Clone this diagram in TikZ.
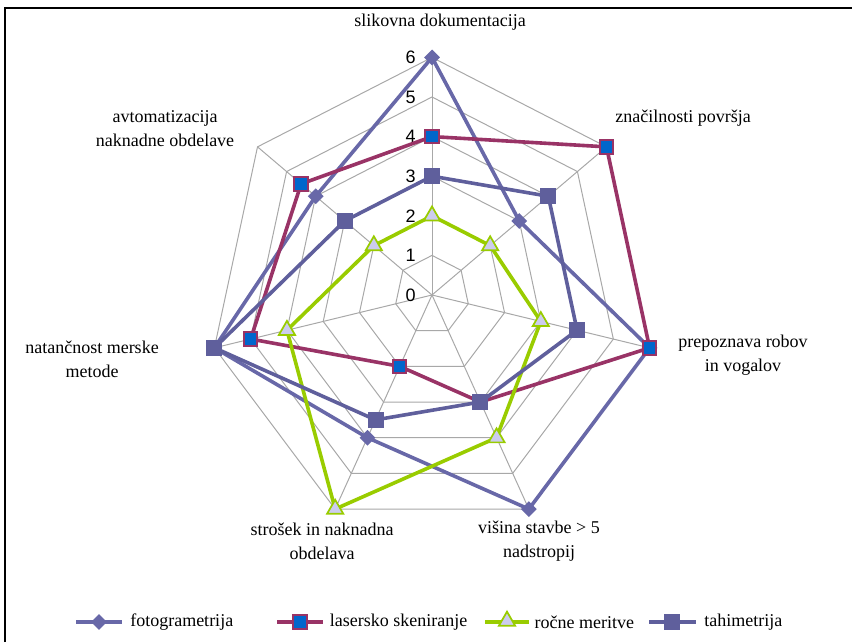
\documentclass[tikz,border=0pt]{standalone}
\usepackage{fontspec}
\setmainfont{Liberation Serif}
\newfontfamily\valuefont{Liberation Sans}
\usetikzlibrary{positioning,shapes.geometric}

\definecolor{fotocolor}{HTML}{6868A8}
\definecolor{lasercolor}{HTML}{993366}
\definecolor{laserfill}{HTML}{0066CC}
\definecolor{rocnecolor}{HTML}{99CC00}
\definecolor{rocnefill}{HTML}{CCCCEE}
\definecolor{tahicolor}{HTML}{5F5F9C}
\definecolor{gridcolor}{HTML}{A8A8A8}

\begin{document}
\begin{tikzpicture}[%
	x=0.75pt,y=0.75pt,
	grid line/.style={
		draw=gridcolor,
		line width=0.75pt
	},
	axis text/.style={
		font=\fontsize{13.5}{18}\selectfont,
		align=center,
		inner sep=0pt
	},
	value text/.style={
		font=\valuefont\fontsize{13.5}{14}\selectfont,
		anchor=east,
		inner sep=0pt
	},
	legend text/.style={
		font=\fontsize{13.5}{18}\selectfont,
		anchor=west,
		inner sep=0pt
	},
	foto line/.style={draw=fotocolor, line width=2.7pt, line join=round},
	laser line/.style={draw=lasercolor, line width=2.7pt, line join=round},
	rocne line/.style={draw=rocnecolor, line width=2.7pt, line join=round},
	tahi line/.style={draw=tahicolor, line width=2.7pt, line join=round},
	foto mark/.style={
		diamond,
		fill=fotocolor,
		minimum size=12pt,
		inner sep=0pt
	},
	laser mark/.style={
		rectangle,
		fill=laserfill,
		draw=lasercolor,
		line width=1.5pt,
		minimum size=10pt,
		inner sep=0pt
	},
	rocne mark/.style={
		regular polygon,
		regular polygon sides=3,
		fill=rocnefill,
		draw=rocnecolor,
		line width=1.3pt,
		minimum size=14pt,
		inner sep=0pt
	},
	tahi mark/.style={
		rectangle,
		fill=tahicolor,
		minimum size=12pt,
		inner sep=0pt
	},
]
	\useasboundingbox (0,0) rectangle (852,642);
	\draw[line width=1pt] (5,0) -- (5,634) -- (852,634);

	\begin{scope}[shift={(432,347)}, x=27.9pt, y=29.7pt]
	% grid
	\coordinate (c) at (0,0);
	\foreach \r in {1,...,6}
		\draw[grid line] (90:\r) -- (38.571:\r) -- (-12.857:\r) -- (-64.286:\r)
			-- (-115.714:\r) -- (-167.143:\r) -- (141.429:\r) -- cycle;
	\foreach \a [count=\i] in {90,38.571,-12.857,-64.286,-115.714,-167.143,141.429} {
		\coordinate (a\i) at (\a:6);
		\draw[grid line] (c) -- (a\i);
	}
	\foreach \r in {0,...,6}
		\node[value text, xshift=-12pt] (val\r) at (90:\r) {\r};

	% fotogrametrija
	\foreach \a/\r [count=\i] in {90/6,38.571/3,-12.857/6,-64.286/6,-115.714/4,-167.143/6,141.429/4}
		\coordinate (f\i) at (\a:\r);
	\draw[foto line] (f1) -- (f2) -- (f3) -- (f4) -- (f5) -- (f6) -- (f7) -- cycle;
	\foreach \i in {1,...,7}
		\node[foto mark] at (f\i) {};

	% lasersko skeniranje
	\foreach \a/\r [count=\i] in {90/4,38.571/6,-12.857/6,-64.286/3,-115.714/2,-167.143/5,141.429/4.5}
		\coordinate (l\i) at (\a:\r);
	\draw[laser line] (l1) -- (l2) -- (l3) -- (l4) -- (l5) -- (l6) -- (l7) -- cycle;
	\foreach \i in {1,...,7}
		\node[laser mark] at (l\i) {};

	% ročne meritve
	\foreach \a/\r [count=\i] in {90/2,38.571/2,-12.857/3,-64.286/4,-115.714/6,-167.143/4,141.429/2}
		\coordinate (r\i) at (\a:\r);
	\draw[rocne line] (r1) -- (r2) -- (r3) -- (r4) -- (r5) -- (r6) -- (r7) -- cycle;
	\foreach \i in {1,...,7}
		\node[rocne mark] at (r\i) {};

	% tahimetrija
	\foreach \a/\r [count=\i] in {90/3,38.571/4,-12.857/4,-64.286/3,-115.714/3.5,-167.143/6,141.429/3}
		\coordinate (t\i) at (\a:\r);
	\draw[tahi line] (t1) -- (t2) -- (t3) -- (t4) -- (t5) -- (t6) -- (t7) -- cycle;
	\foreach \i in {1,...,7}
		\node[tahi mark] at (t\i) {};
	\end{scope}

	% axis labels
	\node[axis text] (slikovna) at (440,620) {slikovna dokumentacija};
	\node[axis text] (povrsje) at (683,524) {značilnosti površja};
	\node[axis text] (robovi) at (743,287) {prepoznava robov \\ in vogalov};
	\node[axis text] (visina) at (539,101) {višina stavbe > 5 \\ nadstropij};
	\node[axis text] (strosek) at (322,101) {strošek in naknadna \\ obdelava};
	\node[axis text] (natancnost) at (92,283) {natančnost merske \\ metode};
	\node[axis text] (avtomat) at (165,513) {avtomatizacija \\ naknadne obdelave};

	% legend
	\coordinate (lf1) at (76,20);
	\coordinate (lf2) at (122,20);
	\draw[foto line] (lf1) -- (lf2);
	\node[foto mark] at (99,20) {};
	\node[legend text, right=6pt of lf2] (lfoto) {fotogrametrija};

	\coordinate (ll1) at (277,20);
	\coordinate (ll2) at (323,20);
	\draw[laser line] (ll1) -- (ll2);
	\node[laser mark] at (300,20) {};
	\node[legend text, right=5pt of ll2] (llaser) {lasersko skeniranje};

	\coordinate (lr1) at (485,20);
	\coordinate (lr2) at (529,20);
	\draw[rocne line] (lr1) -- (lr2);
	\node[rocne mark] at (507,21) {};
	\node[legend text, right=4pt of lr2] (lrocne) {ročne meritve};

	\coordinate (lt1) at (649,20);
	\coordinate (lt2) at (696,20);
	\draw[tahi line] (lt1) -- (lt2);
	\node[tahi mark] at (672,20) {};
	\node[legend text, right=6pt of lt2] (ltahi) {tahimetrija};
\end{tikzpicture}
\end{document}
